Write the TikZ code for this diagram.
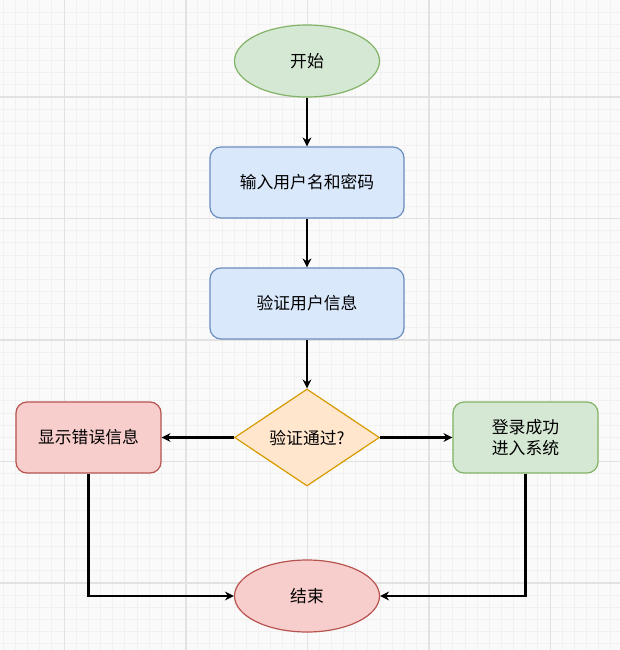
\documentclass[tikz,border=0pt]{standalone}
\usepackage{fontspec}
\setmainfont{Noto Sans CJK SC}
\usetikzlibrary{arrows.meta,shapes.geometric}
\definecolor{bgc}{HTML}{FAFAFA}
\definecolor{minorc}{HTML}{F1F1F1}
\definecolor{majorc}{HTML}{E2E2E2}
\definecolor{gfill}{HTML}{D5E8D4}
\definecolor{gline}{HTML}{82B366}
\definecolor{bfill}{HTML}{DAE8FC}
\definecolor{bline}{HTML}{6C8EBF}
\definecolor{rfill}{HTML}{F8CECC}
\definecolor{rline}{HTML}{B85450}
\definecolor{ofill}{HTML}{FFE6CC}
\definecolor{oline}{HTML}{D79B00}
\begin{document}
\begin{tikzpicture}[x=1pt,y=-1pt,
  every node/.style={font=\fontsize{16.8}{21.5}\selectfont, inner sep=0pt, align=center},
  term/.style={ellipse, draw, line width=1.2pt, minimum width=145pt, minimum height=72pt},
  procbox/.style={rectangle, rounded corners=11pt, draw, line width=1.2pt, minimum width=194pt, minimum height=71pt},
  sidebox/.style={rectangle, rounded corners=11pt, draw, line width=1.2pt, minimum width=145pt, minimum height=71pt},
  decision/.style={diamond, draw, line width=1.2pt, minimum width=145pt, minimum height=97pt, aspect=1.5},
  flow/.style={line width=2.6pt, -{Stealth[length=9pt,width=9pt,inset=3pt]}}
]
\useasboundingbox (0,0) rectangle (620,650);
\fill[bgc] (0,0) rectangle (620,650);
% minor grid
\foreach \i in {0,...,51} {
  \draw[minorc, line width=0.8pt] ({3.25+\i*12.15},0) -- ({3.25+\i*12.15},650);
}
\foreach \i in {0,...,53} {
  \draw[minorc, line width=0.8pt] (0,{-0.2+\i*12.15}) -- (620,{-0.2+\i*12.15});
}
% major grid
\foreach \i in {0,...,4} {
  \draw[majorc, line width=1.3pt] ({64.5+\i*121.5},0) -- ({64.5+\i*121.5},650);
}
\foreach \i in {-1,...,4} {
  \draw[majorc, line width=1.3pt] (0,{97+\i*121.5}) -- (620,{97+\i*121.5});
}

\node[term, fill=gfill, draw=gline] (start) at (307,61) {开始};
\node[procbox, fill=bfill, draw=bline] (input) at (307,182.5) {输入用户名和密码};
\node[procbox, fill=bfill, draw=bline] (verify) at (307,303.5) {验证用户信息};
\node[decision, fill=ofill, draw=oline] (check) at (307,437.5) {验证通过?};
\node[sidebox, fill=rfill, draw=rline] (err) at (88.5,437.5) {显示错误信息};
\node[sidebox, fill=gfill, draw=gline] (ok) at (525.5,437.5) {登录成功\\进入系统};
\node[term, fill=rfill, draw=rline] (end) at (307,596) {结束};

\draw[flow] (start) -- (input);
\draw[flow] (input) -- (verify);
\draw[flow] (verify) -- (check);
\draw[flow] (check.west) -- (err.east);
\draw[flow] (check.east) -- (ok.west);
\draw[flow] (err.south) |- (end.west);
\draw[flow] (ok.south) |- (end.east);
\end{tikzpicture}
\end{document}
